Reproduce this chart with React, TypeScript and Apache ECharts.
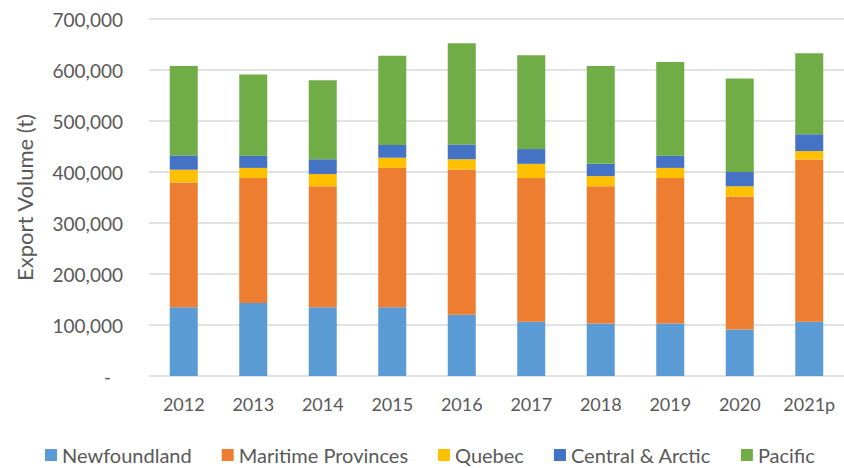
import React, { useEffect, useRef } from "react";
import * as echarts from "echarts";

const categories = ["2012", "2013", "2014", "2015", "2016", "2017", "2018", "2019", "2020", "2021p"];
const seriesNames = ["Newfoundland", "Maritime Provinces", "Quebec", "Central & Arctic", "Pacific"];
const newfoundland = [135000, 143000, 135000, 135000, 120000, 106500, 103000, 103000, 91000, 106500];
const maritime = [244500, 245000, 237000, 273000, 285000, 281500, 269000, 285000, 261000, 318000];
const quebec = [25000, 20000, 24000, 20000, 20000, 28000, 20000, 20000, 20000, 16500];
const centralArctic = [28000, 24000, 29000, 25000, 29000, 29000, 24000, 24000, 28000, 33000];
const pacific = [175500, 159000, 155000, 175000, 198500, 184000, 192000, 183500, 183500, 159000];
const colors = ["#5B9BD5", "#ED7D31", "#FFC000", "#4472C4", "#70AD47"];

const FONT = "Lato";
const TEXT = "#595959";

export default function App() {
  const ref = useRef<HTMLDivElement>(null);
  useEffect(() => {
    if (!ref.current) return;
    const chart = echarts.init(ref.current, null, { renderer: "svg" });
    const data = [newfoundland, maritime, quebec, centralArctic, pacific];
    chart.setOption({
      animation: false,
      color: colors,
      textStyle: { fontFamily: FONT, color: TEXT },
      grid: { left: 149, right: -3, top: 19, bottom: 92, containLabel: false },
      legend: {
        data: seriesNames,
        left: 40,
        top: 440,
        itemWidth: 12,
        itemHeight: 12,
        itemGap: 30,
        icon: "rect",
        textStyle: { fontFamily: FONT, fontSize: 20, color: TEXT },
      },
      xAxis: {
        type: "category",
        data: categories,
        axisLine: { show: false },
        axisTick: { show: false },
        axisLabel: { fontFamily: FONT, fontSize: 18, color: TEXT, margin: 19, interval: 0 },
      },
      yAxis: {
        type: "value",
        min: 0,
        max: 700000,
        interval: 100000,
        name: "Export Volume (t)",
        nameLocation: "middle",
        nameGap: 114,
        nameTextStyle: { fontFamily: FONT, fontSize: 22, color: TEXT },
        axisLine: { show: false },
        axisTick: { show: false },
        splitLine: { lineStyle: { color: "#d9d9d9", width: 1.5 } },
        axisLabel: {
          fontFamily: FONT,
          fontSize: 19,
          color: TEXT,
          margin: 26,
          formatter: (v: number) =>
            v === 0 ? "{d|-}" : v.toLocaleString("en-US"),
          rich: {
            d: { fontFamily: FONT, fontSize: 19, color: TEXT, padding: [0, 12, 0, 0] },
          },
        },
      },
      series: seriesNames.map((name, i) => ({
        name,
        type: "bar",
        stack: "total",
        barWidth: 28,
        data: data[i],
      })),
    });
    return () => chart.dispose();
  }, []);
  return (
    <div
      ref={ref}
      style={{ position: "fixed", left: 0, top: 0, width: 844, height: 468, background: "#fff" }}
    />
  );
}
